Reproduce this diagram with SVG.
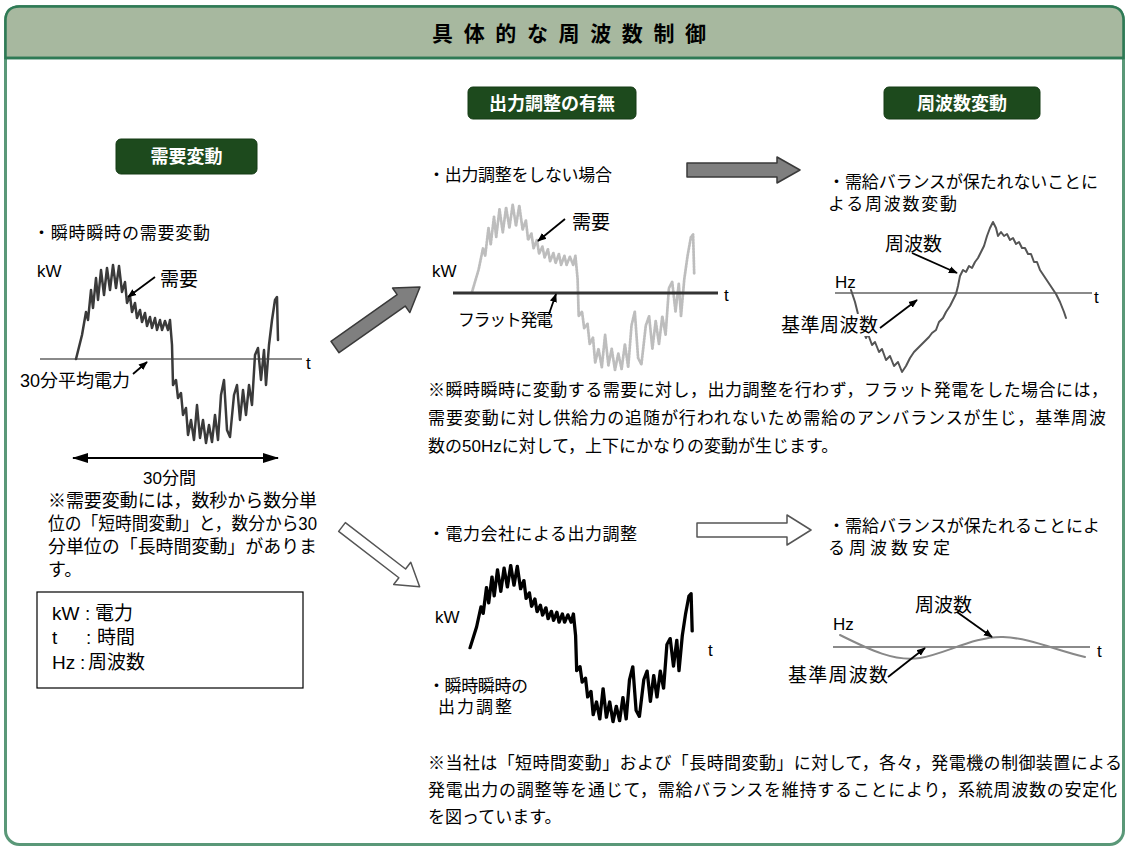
<svg xmlns="http://www.w3.org/2000/svg" xmlns:xlink="http://www.w3.org/1999/xlink" width="1127" height="847" viewBox="0 0 1127 847">
<style>
  text { font-family: 'Liberation Sans', 'Noto Sans CJK JP', sans-serif; fill: #000; }
  .t17 { font-size: 17px; }
  .t18 { font-size: 18px; }
  .t19 { font-size: 19px; }
  .lbl { font-size: 18px; font-weight: bold; fill: #fff; }
  .lblbox { fill: #1d4a1d; stroke: #153a15; stroke-width: 1; }
  .axis { stroke: #8a8a8a; stroke-width: 2; fill: none; }
  .wave { fill: none; stroke-linejoin: round; stroke-linecap: round; }
  .ptr { stroke: #000; stroke-width: 1.8; fill: none; marker-end: url(#ah); }
  .grayArrow { fill: #7f7f7f; stroke: #3a3a3a; stroke-width: 1.5; stroke-linejoin: round; }
  .whiteArrow { fill: #fff; stroke: #555; stroke-width: 1.5; stroke-linejoin: round; }
</style>
<defs>
  <marker id="ah" viewBox="0 0 10 10" refX="9" refY="5" markerWidth="9" markerHeight="9" markerUnits="userSpaceOnUse" orient="auto">
    <path d="M0,1 L10,5 L0,9 z" fill="#000"/>
  </marker>
  <marker id="big" viewBox="0 0 16 10" refX="15" refY="5" markerWidth="17" markerHeight="10" markerUnits="userSpaceOnUse" orient="auto-start-reverse">
    <path d="M0,0 L16,5 L0,10 z" fill="#000"/>
  </marker>
  <path id="demand" d="M0,0 L6,-24 L10,-47 L12,-39 L15,-69 L17,-51 L20,-81 L22,-59 L25,-89 L28,-64 L31,-91 L34,-69 L37,-94 L40,-71 L43,-93 L46,-67 L49,-77 L51,-56 L54,-63 L56,-47 L59,-56 L61,-41 L64,-49 L66,-37 L69,-46 L71,-33 L74,-42 L76,-31 L79,-41 L81,-29 L84,-39 L86,-29 L89,-38 L92,-29 L94,-39 L96,-14 L97,26 L100,21 L102,39 L105,34 L107,56 L110,49 L112,76 L115,61 L118,81 L121,46 L124,79 L127,61 L130,84 L133,66 L136,83 L139,56 L142,81 L145,36 L148,21 L151,71 L154,78 L158,36 L161,26 L164,61 L167,31 L170,56 L173,26 L176,46 L179,-4 L182,-11 L185,21 L188,-9 L190,26 L193,-14 L196,-39 L199,-59 L201,-62 L202,-19"/>
</defs>

<g id="frame">
  <rect x="5.5" y="6.5" width="1118" height="838" rx="14" fill="#fff" stroke="#5a9878" stroke-width="3"/>
  <path d="M5.5,58 L5.5,20.5 Q5.5,6.5 19.5,6.5 L1109.5,6.5 Q1123.5,6.5 1123.5,20.5 L1123.5,58 Z" fill="#a7b89f" stroke="#2f7a55" stroke-width="2.5"/>
  <line x1="5.5" y1="58" x2="1123.5" y2="58" stroke="#2f7a55" stroke-width="2.5"/>
</g>

<g id="title">
  <text x="432" y="41" font-size="21" font-weight="bold" textLength="274">具体的な周波数制御</text>
</g>

<g id="label-demand">
  <rect class="lblbox" x="116" y="139" width="141" height="35" rx="5"/>
  <text class="lbl" x="186.5" y="163" text-anchor="middle" font-size="19">需要変動</text>
</g>
<g id="label-output">
  <rect class="lblbox" x="468" y="87" width="168" height="32" rx="5"/>
  <text class="lbl" x="552" y="110" text-anchor="middle">出力調整の有無</text>
</g>
<g id="label-freq">
  <rect class="lblbox" x="884" y="87" width="156" height="32" rx="5"/>
  <text class="lbl" x="962" y="110" text-anchor="middle" font-size="17">周波数変動</text>
</g>

<g id="panel-demand">
  <text class="t17" x="33" y="239" textLength="177">・瞬時瞬時の需要変動</text>
  <text class="t17" x="37" y="277">kW</text>
  <text class="t19" x="160" y="286">需要</text>
  <line class="axis" x1="40" y1="359" x2="302" y2="359" stroke-width="2.5"/>
  <text class="t17" x="306" y="369">t</text>
  <use xlink:href="#demand" href="#demand" class="wave" stroke="#3a3a3a" stroke-width="2.5" transform="translate(76,359)"/>
  <text class="t18" x="20" y="387">30分平均電力</text>
  <line x1="73" y1="458" x2="278" y2="458" stroke="#000" stroke-width="2" marker-start="url(#big)" marker-end="url(#big)"/>
  <text class="t17" x="143" y="484">30分間</text>
</g>

<g id="note-demand">
  <text class="t18" x="48" y="507" textLength="269">※需要変動には，数秒から数分単</text>
  <text class="t18" x="48" y="530" textLength="269" lengthAdjust="spacingAndGlyphs">位の「短時間変動」と，数分から30</text>
  <text class="t18" x="48" y="553" textLength="269" lengthAdjust="spacingAndGlyphs">分単位の「長時間変動」がありま</text>
  <text class="t18" x="48" y="576">す。</text>
</g>

<g id="legend">
  <rect x="37" y="592" width="266" height="96" fill="#fff" stroke="#000" stroke-width="1.2"/>
  <text class="t19" x="52" y="620">kW</text><text class="t19" x="85" y="620">:</text><text class="t19" x="95" y="620">電力</text>
  <text class="t19" x="52" y="644">t</text><text class="t19" x="86" y="644">:</text><text class="t19" x="97" y="644">時間</text>
  <text class="t19" x="52" y="669">Hz</text><text class="t19" x="80" y="669">:</text><text class="t19" x="88" y="669">周波数</text>
</g>

<g id="panel-no-adjust">
  <text class="t17" x="428" y="181" textLength="184">・出力調整をしない場合</text>
  <use xlink:href="#demand" href="#demand" class="wave" stroke="#bdbdbd" stroke-width="2.5" stroke-dasharray="2 1.2" vector-effect="non-scaling-stroke" transform="translate(472,292) scale(1.1,0.93)"/>
  <line x1="453" y1="293" x2="718" y2="293" stroke="#333" stroke-width="3"/>
  <text class="t19" x="572" y="229">需要</text>
  <text class="t17" x="432" y="277">kW</text>
  <text class="t17" x="724" y="301">t</text>
  <text class="t17" x="458" y="326" textLength="95">フラット発電</text>
</g>

<g id="note-no-adjust">
  <text class="t17" x="428" y="396" textLength="680">※瞬時瞬時に変動する需要に対し，出力調整を行わず，フラット発電をした場合には，</text>
  <text class="t17" x="428" y="424" textLength="678">需要変動に対し供給力の追随が行われないため需給のアンバランスが生じ，基準周波</text>
  <text class="t17" x="428" y="452">数の50Hzに対して，上下にかなりの変動が生じます。</text>
</g>

<g id="panel-adjust">
  <text class="t17" x="428" y="540" textLength="209">・電力会社による出力調整</text>
  <use xlink:href="#demand" href="#demand" class="wave" stroke="#000" stroke-width="3" vector-effect="non-scaling-stroke" transform="translate(470,648) scale(1.1,0.88)"/>
  <text class="t17" x="435" y="623">kW</text>
  <text class="t17" x="708" y="656">t</text>
  <text class="t17" x="428" y="692" textLength="100">・瞬時瞬時の</text>
  <text class="t17" x="438" y="713" textLength="74">出力調整</text>
</g>

<g id="panel-freq-unstable">
  <text class="t17" x="828" y="188" textLength="270">・需給バランスが保たれないことに</text>
  <text class="t17" x="828" y="210" textLength="129">よる周波数変動</text>
  <line class="axis" x1="835" y1="293" x2="1092" y2="293"/>
  <path class="wave" stroke="#555" stroke-width="2" d="M851,290 L855,302 L858,314 L862,328 L866,338 L868,334 L872,345 L875,342 L879,352 L882,349 L886,360 L890,356 L894,366 L898,362 L902,372 L906,366 L910,358 L914,352 L918,348 L922,344 L926,340 L929,337 L932,333 L936,330 L939,322 L943,318 L946,312 L950,306 L953,300 L956,294 L958,286 L960,276 L963,270 L966,272 L969,266 L972,268 L975,262 L978,258 L981,252 L984,246 L987,236 L990,228 L993,222 L996,228 L998,236 L1001,232 L1004,236 L1007,234 L1010,240 L1013,238 L1016,244 L1019,242 L1022,248 L1025,248 L1028,254 L1031,254 L1034,262 L1037,262 L1040,270 L1044,276 L1048,282 L1052,288 L1056,294 L1060,302 L1064,312 L1066,318"/>
  <rect x="780" y="314" width="98" height="22" fill="#fff"/>
  <text class="t19" x="885" y="251">周波数</text>
  <text class="t17" x="835" y="288">Hz</text>
  <text class="t17" x="1094" y="303">t</text>
  <text class="t19" x="781" y="332" textLength="97">基準周波数</text>
</g>

<g id="panel-freq-stable">
  <text class="t17" x="828" y="532" textLength="272">・需給バランスが保たれることによ</text>
  <text class="t17" x="828" y="554" textLength="122">る周波数安定</text>
  <line class="axis" x1="833" y1="647" x2="1090" y2="647"/>
  <path class="wave" stroke="#888" stroke-width="2" d="M840,635 C870,650 895,662 920,658 C945,654 975,636 1003,637 C1030,638 1055,650 1085,657"/>
  <text class="t19" x="915" y="612">周波数</text>
  <text class="t17" x="833" y="630">Hz</text>
  <text class="t17" x="1097" y="657">t</text>
  <text class="t19" x="788" y="682" textLength="100">基準周波数</text>
</g>

<g id="note-company">
  <text class="t17" x="428" y="769" textLength="694">※当社は「短時間変動」および「長時間変動」に対して，各々，発電機の制御装置による</text>
  <text class="t17" x="428" y="796" textLength="689">発電出力の調整等を通じて，需給バランスを維持することにより，系統周波数の安定化</text>
  <text class="t17" x="428" y="823">を図っています。</text>
</g>

<g id="connectors">
  <polygon class="grayArrow" transform="translate(335,347) rotate(-35.2)" points="0,-7 81,-7 81,-15 104,0 81,15 81,7 0,7"/>
  <polygon class="whiteArrow" transform="translate(342,527) rotate(37.6)" points="0,-5.5 76,-5.5 76,-14 98,0 76,14 76,5.5 0,5.5"/>
  <polygon class="grayArrow" points="687,163 777,163 777,157 800,170 777,183 777,177 687,177"/>
  <polygon class="whiteArrow" points="697,523 787,523 787,515 811,530 787,545 787,537 697,537"/>
  <line class="ptr" x1="155" y1="277" x2="128" y2="297"/>
  <line class="ptr" x1="133" y1="374" x2="147" y2="362"/>
  <line class="ptr" x1="565" y1="219" x2="538" y2="241"/>
  <line class="ptr" x1="549" y1="314" x2="556" y2="294"/>
  <line class="ptr" x1="912" y1="253" x2="957" y2="273"/>
  <line class="ptr" x1="880" y1="328" x2="917" y2="300"/>
  <line class="ptr" x1="957" y1="612" x2="992" y2="637"/>
  <line class="ptr" x1="888" y1="677" x2="925" y2="648"/>
</g>
</svg>
